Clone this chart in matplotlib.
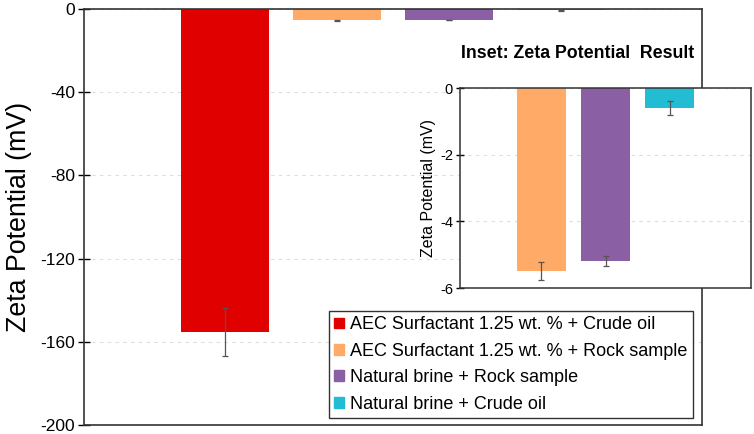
import matplotlib.pyplot as plt
import numpy as np

plt.rcParams['font.family'] = ['Liberation Sans', 'DejaVu Sans']
plt.rcParams['axes.unicode_minus'] = False

# data
labels = ['AEC Surfactant 1.25 wt. % + Crude oil',
          'AEC Surfactant 1.25 wt. % + Rock sample',
          'Natural brine + Rock sample',
          'Natural brine + Crude oil']
zeta = [-155.3, -5.5, -5.2, -0.6]
zeta_err = [11.5, 0.27, 0.15, 0.22]
colors = ['#E00000', '#FFAA66', '#8A5FA4', '#22BDD2']

# inset shows only the small ones
inset_zeta = zeta[1:]
inset_err = zeta_err[1:]
inset_colors = colors[1:]

fig = plt.figure(figsize=(7.54, 4.34), dpi=100)
ax = fig.add_axes([84/754, 1-425/434, (702-84)/754, (425-9)/434])

x = np.arange(len(zeta))
ax.bar(x, zeta, width=0.786, color=colors, zorder=2)
ax.errorbar(x, zeta, yerr=zeta_err, fmt='none', ecolor='#555555',
            elinewidth=0.9, capsize=2.5, capthick=0.9, zorder=3)
ax.set_xlim(-1.26, 4.26)
ax.set_ylim(-200, 0)
ax.set_yticks([0, -40, -80, -120, -160, -200])
ax.set_xticks([])
ax.yaxis.grid(True, linestyle=(0, (3, 4)), color='#dddddd', linewidth=0.8)
ax.set_axisbelow(True)
ax.tick_params(axis='y', direction='inout', length=8.5, width=1, labelsize=12.5, pad=2)
for s in ax.spines.values():
    s.set_color('#333333')
    s.set_linewidth(1.2)
ax.set_ylabel('Zeta Potential (mV)', fontsize=19.3, labelpad=6)

handles = [plt.Rectangle((0, 0), 1, 1, color=c) for c in colors]
leg = ax.legend(handles, labels, loc='lower left', bbox_to_anchor=(329/754, 16/434),
                bbox_transform=fig.transFigure, borderaxespad=0, fontsize=13,
                handlelength=0.55, handleheight=0.55, handletextpad=0.3,
                labelspacing=0.52, borderpad=0.3, fancybox=False, framealpha=1)
leg.get_frame().set_edgecolor('#333333')
leg.get_frame().set_linewidth(1.0)

# inset
axi = fig.add_axes([460/754, 1-288/434, (751-460)/754, (288-88)/434])
xi = np.arange(len(inset_zeta))
axi.bar(xi, inset_zeta, width=0.775, color=inset_colors, zorder=2)
axi.errorbar(xi, inset_zeta, yerr=inset_err, fmt='none', ecolor='#555555',
             elinewidth=0.9, capsize=2.5, capthick=0.9, zorder=3)
axi.set_xlim(-1.27, 3.27)
axi.set_ylim(-6, 0)
axi.set_yticks([0, -2, -4, -6])
axi.set_xticks([])
axi.yaxis.grid(True, linestyle=(0, (3, 4)), color='#dddddd', linewidth=0.8)
axi.set_axisbelow(True)
axi.tick_params(axis='y', direction='inout', length=6, width=1, labelsize=10.5, pad=2)
for s in axi.spines.values():
    s.set_color('#333333')
    s.set_linewidth(1.1)
axi.set_ylabel('Zeta Potential (mV)', fontsize=11.5, labelpad=3)

fig.text(578/754, 1-53/434, 'Inset: Zeta Potential  Result', fontsize=12.8, fontweight='bold',
         ha='center', va='center',
         bbox=dict(facecolor='white', edgecolor='none', pad=4))

fig.savefig('out.png', dpi=100)
